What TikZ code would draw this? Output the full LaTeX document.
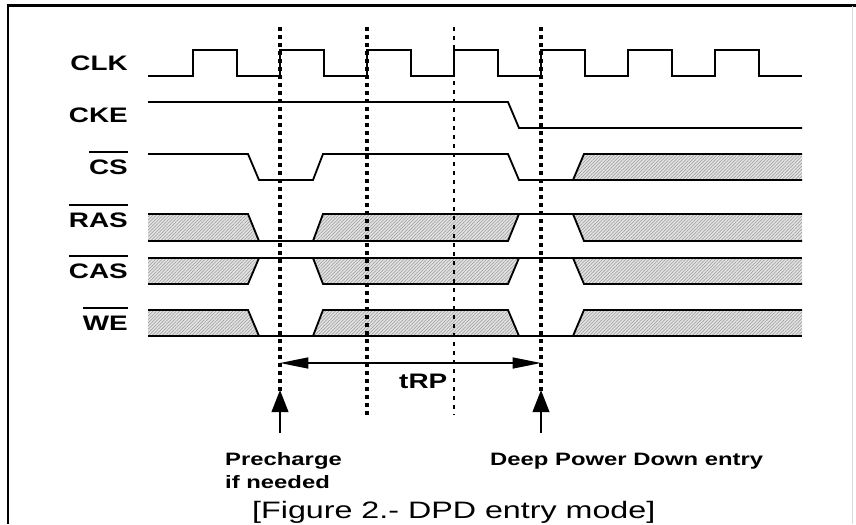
\documentclass[tikz,border=0pt]{standalone}
\usepackage{fontspec}
\usepackage{graphicx}
\usepackage{tikz}
\usetikzlibrary{arrows.meta,patterns.meta}
\newfontfamily\lblfont[FakeStretch=1.33]{Liberation Sans}
\newfontfamily\capfont{Liberation Sans}
% bar over an active-low signal name
\newcommand{\sigbar}[1]{\vbox{\hrule height 0.075cm\kern 0.19cm\hbox{#1}}}

\begin{document}
\begin{tikzpicture}[
    x=0.03cm, y=-0.03cm,
    sig/.style={line width=0.055cm},
    hatch/.style={preaction={fill=gray!22},
                 pattern={Lines[angle=45,distance=2pt,line width=0.45pt]},
                 pattern color=gray!80},
    guide/.style={line width=0.1cm, dash pattern=on 0.11cm off 0.13cm},
    thinguide/.style={line width=0.05cm, dash pattern=on 0.13cm off 0.14cm},
    lbl/.style={font=\lblfont\bfseries\fontsize{17.9}{20}\selectfont,
                 inner sep=0pt, anchor=base east},
    note/.style={font=\lblfont\bfseries\fontsize{15.3}{19.6}\selectfont,
                 inner sep=0pt, anchor=base west, align=left},
    dimarr/.style={{Triangle[length=0.85cm,width=0.33cm]}-{Triangle[length=0.85cm,width=0.33cm]},
                 line width=0.045cm},
    uparr/.style={-{Triangle[length=0.66cm,width=0.5cm]}, line width=0.055cm},
]
    \useasboundingbox (0,0) rectangle (856,524);

    % frame
    \draw[line width=0.06cm] (8,5) -- (8,524);
    \draw[line width=0.09cm] (6.5,5) -- (856,5);
    \draw[gray!30, line width=0.02cm] (852,6) -- (852,524);

    % signal names
    \node[lbl] (clk) at (128,70) {CLK};
    \node[lbl] (cke) at (128,122) {CKE};
    \node[lbl] (cs) at (128,174) {\sigbar{CS}};
    \node[lbl] (ras) at (128,227) {\sigbar{RAS}};
    \node[lbl] (cas) at (128,278) {\sigbar{CAS}};
    \node[lbl] (we) at (128,330) {\sigbar{WE}};

    % don't care areas
    \fill[hatch] (573,180) -- (584,154) -- (802,154) -- (802,180) -- cycle;
    \fill[hatch] (148,214) -- (248,214) -- (259,241) -- (148,241) -- cycle;
    \fill[hatch] (313,241) -- (323,214) -- (519,214) -- (508,241) -- cycle;
    \fill[hatch] (573,214) -- (802,214) -- (802,241) -- (584,241) -- cycle;
    \fill[hatch] (148,258) -- (259,258) -- (248,284) -- (148,284) -- cycle;
    \fill[hatch] (313,258) -- (519,258) -- (508,284) -- (323,284) -- cycle;
    \fill[hatch] (573,258) -- (802,258) -- (802,284) -- (584,284) -- cycle;
    \fill[hatch] (148,310) -- (248,310) -- (259,336) -- (148,336) -- cycle;
    \fill[hatch] (313,336) -- (323,310) -- (508,310) -- (519,336) -- cycle;
    \fill[hatch] (573,336) -- (584,310) -- (802,310) -- (802,336) -- cycle;

    % CLK
    \draw[sig] (148,76) foreach \k in {0,...,6} {
        -- ({193+87*\k},76) -- ({193+87*\k},50) -- ({237+87*\k},50) -- ({237+87*\k},76)
    } -- (802,76);
    % CKE
    \draw[sig] (148,102) -- (508,102) -- (519,128) -- (802,128);
    % CS
    \draw[sig] (148,154) -- (248,154) -- (259,180) -- (313,180) -- (323,154)
        -- (508,154) -- (519,180) -- (802,180);
    \draw[sig] (573,180) -- (584,154) -- (802,154);
    % RAS
    \draw[sig] (148,214) -- (248,214) -- (259,241);
    \draw[sig] (148,241) -- (508,241) -- (519,214);
    \draw[sig] (313,241) -- (323,214) -- (802,214);
    \draw[sig] (573,214) -- (584,241) -- (802,241);
    % CAS
    \draw[line width=0.04cm] (148,258) -- (802,258);
    \draw[sig] (148,284) -- (248,284) -- (259,258);
    \draw[sig] (313,258) -- (323,284) -- (508,284) -- (519,258);
    \draw[sig] (573,258) -- (584,284) -- (802,284);
    % WE
    \draw[sig] (148,310) -- (248,310) -- (259,336);
    \draw[sig] (313,336) -- (323,310) -- (508,310) -- (519,336);
    \draw[sig] (573,336) -- (584,310) -- (802,310);
    \draw[sig] (148,336) -- (802,336);

    % clock edge markers
    \draw[guide] (280,27) -- (280,392);
    \draw[guide] (367,27) -- (367,415);
    \draw[thinguide] (454,27) -- (454,415);
    \draw[guide] (541,27) -- (541,392);

    % tRP
    \coordinate (pcmark) at (280,363);
    \coordinate (dpdmark) at (541,363);
    \draw[dimarr] (pcmark) -- (dpdmark);
    \node[lbl, anchor=base west] (trp) at (399,388) {tRP};

    % command points
    \coordinate (pcbase) at (280,433);
    \coordinate (pctip) at (280,390);
    \coordinate (dpdbase) at (541,433);
    \coordinate (dpdtip) at (541,390);
    \draw[uparr] (pcbase) -- (pctip);
    \draw[uparr] (dpdbase) -- (dpdtip);

    \node[note] (pre) at (225,488) {Precharge\\if needed};
    \node[note] (dpd) at (490,465) {Deep Power Down entry};

    \node[font=\capfont\fontsize{20.3}{24}\selectfont, inner sep=0pt, anchor=base west]
        (cap) at (252,518) {\resizebox{12.09cm}{\height}{[Figure 2.- DPD entry mode]}};
\end{tikzpicture}
\end{document}
